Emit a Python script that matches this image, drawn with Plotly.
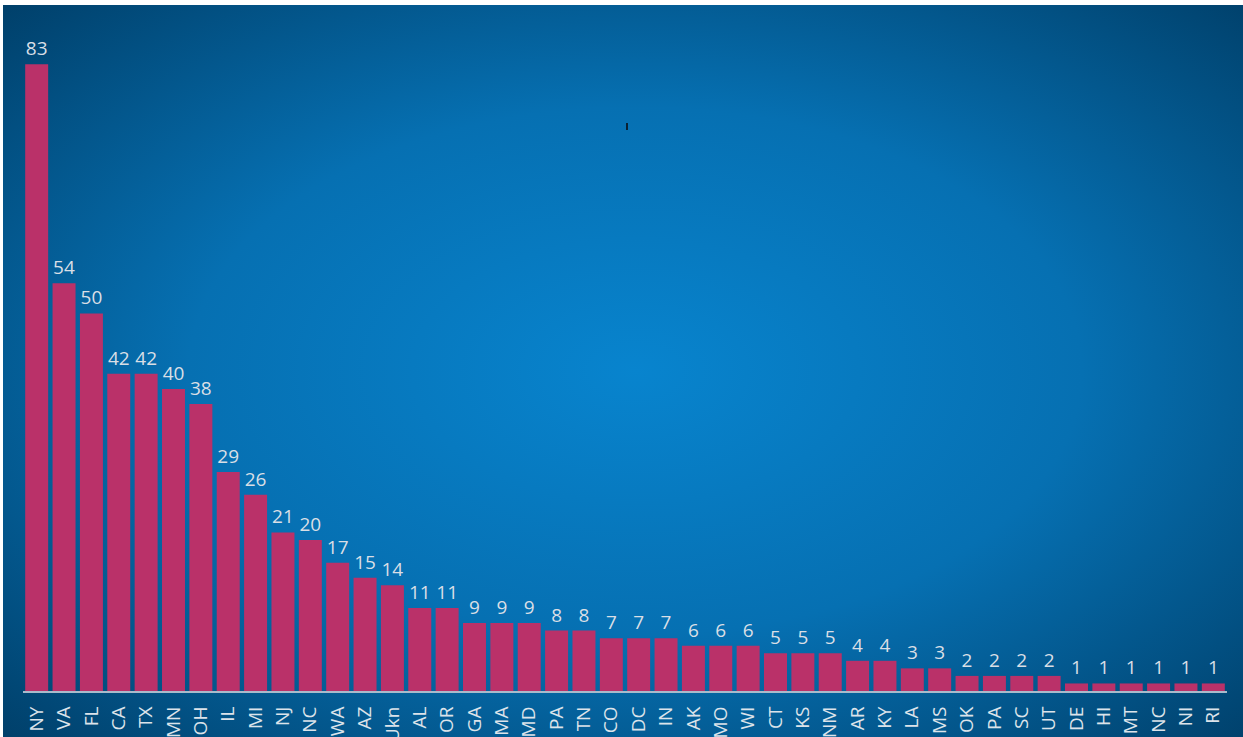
import base64
import plotly.graph_objects as go

states = ["NY", "VA", "FL", "CA", "TX", "MN", "OH", "IL", "MI", "NJ",
          "NC", "WA", "AZ", "Ukn", "AL", "OR", "GA", "MA", "MD", "PA",
          "TN", "CO", "DC", "IN", "AK", "MO", "WI", "CT", "KS", "NM",
          "AR", "KY", "LA", "MS", "OK", "PA", "SC", "UT", "DE", "HI",
          "MT", "NC", "NI", "RI"]
counts = [83, 54, 50, 42, 42, 40, 38, 29, 26, 21,
          20, 17, 15, 14, 11, 11, 9, 9, 9, 8,
          8, 7, 7, 7, 6, 6, 6, 5, 5, 5,
          4, 4, 3, 3, 2, 2, 2, 2, 1, 1,
          1, 1, 1, 1]

positions = list(range(len(states)))

W, H = 1243, 737
ML, MR, MT, MB = 23, 16, 10, 46
pw = W - ML - MR
ph = H - MT - MB

svg = """<svg xmlns='http://www.w3.org/2000/svg' width='1240' height='732' viewBox='0 0 1240 732' preserveAspectRatio='none'>
<defs><radialGradient id='g' cx='0.51' cy='0.5' r='0.72' gradientUnits='objectBoundingBox'>
<stop offset='0' stop-color='#0884CE'/>
<stop offset='0.5' stop-color='#0670B2'/>
<stop offset='1' stop-color='#003F69'/>
</radialGradient></defs>
<rect x='0' y='0' width='1240' height='732' fill='url(#g)'/>
</svg>"""
src = "data:image/svg+xml;base64," + base64.b64encode(svg.encode()).decode()

fig = go.Figure()
fig.add_trace(go.Bar(
    x=positions, y=counts,
    marker=dict(color="#BA3169", line=dict(width=0)),
    text=[str(c) for c in counts], textposition="outside",
    textfont=dict(family="Open Sans", size=19, color="#D9DFE6"),
    cliponaxis=False, width=0.84,
))

img_x0 = (3 - ML) / pw
img_y1 = 1 + (MT - 5) / ph
fig.add_layout_image(dict(
    source=src, xref="paper", yref="paper",
    x=img_x0, y=img_y1, sizex=1240 / pw, sizey=732 / ph,
    xanchor="left", yanchor="top", sizing="stretch", layer="below",
))

fig.add_shape(type="line", xref="paper", yref="paper",
              x0=(627 - ML) / pw, x1=(627 - ML) / pw,
              y0=1 - (123 - MT) / ph, y1=1 - (130 - MT) / ph,
              line=dict(color="#0A2233", width=2))

fig.update_layout(
    width=W, height=H,
    margin=dict(l=ML, r=MR, t=MT, b=MB, pad=0, autoexpand=False),
    paper_bgcolor="white", plot_bgcolor="rgba(0,0,0,0)",
    showlegend=False,
    xaxis=dict(
        tickmode="array", tickvals=positions, ticktext=states,
        tickangle=-90, range=[-0.5, len(states) - 0.5],
        showgrid=False, zeroline=False, automargin=False,
        showline=True, linecolor="#A9BBCB", linewidth=2,
        ticks="", ticklabelstandoff=6,
        tickfont=dict(family="Open Sans", size=19, color="#DCE3EA"),
    ),
    yaxis=dict(range=[0, (690 - MT) / 7.54], visible=False, automargin=False),
)

fig.write_html(
    "out.html",
    config={"displayModeBar": False},
    post_script="document.body.style.margin='0';document.body.style.overflow='hidden';",
)
